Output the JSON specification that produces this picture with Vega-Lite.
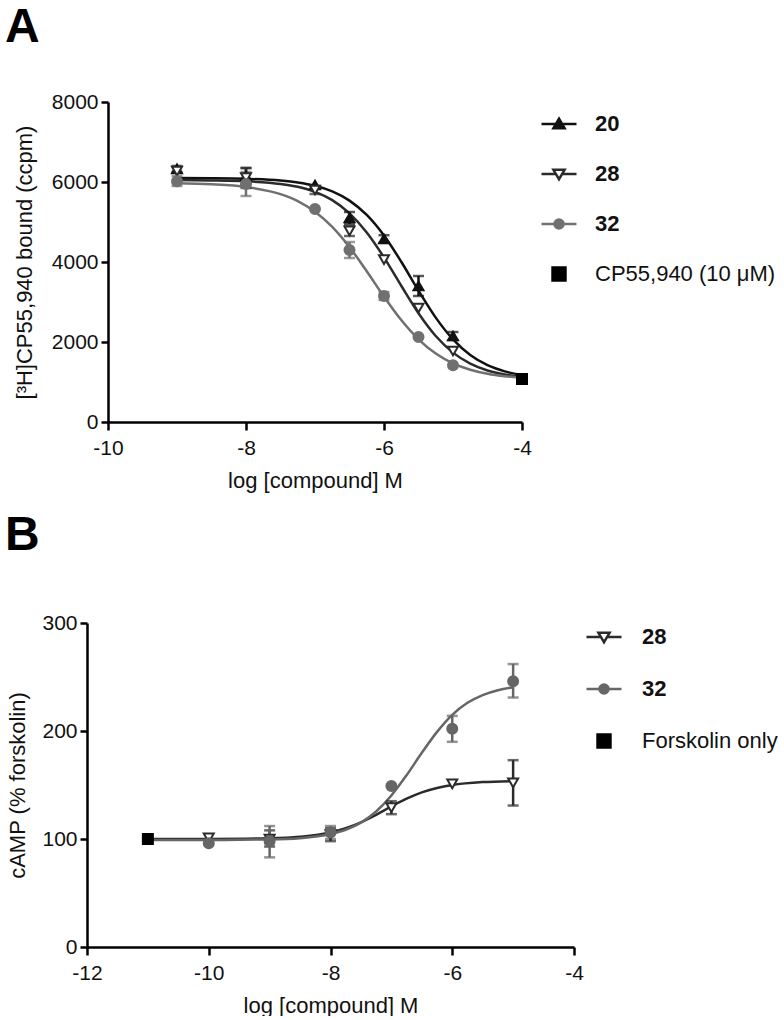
{
  "$schema": "https://vega.github.io/schema/vega-lite/v6.json",
  "background": "white",
  "padding": {"left": 5, "top": 4, "right": 0, "bottom": 0},
  "spacing": 21,
  "config": {
    "font": "Liberation Sans",
    "view": {"stroke": null},
    "axis": {
      "grid": false,
      "labelFlush": false,
      "domainColor": "#000",
      "domainWidth": 2.5,
      "tickColor": "#000",
      "tickWidth": 2.5,
      "labelFont": "Liberation Sans",
      "labelFontSize": 21,
      "labelColor": "#111",
      "titleFont": "Liberation Sans",
      "titleFontSize": 22,
      "titleFontWeight": "normal",
      "titleColor": "#111"
    },
    "axisX": {"tickSize": 8, "labelPadding": 7, "titlePadding": 12},
    "axisY": {"tickSize": 7, "labelPadding": 3},
    "legend": {"labelFont": "Liberation Sans", "labelFontSize": 22, "labelColor": "#111", "labelLimit": 400},
    "title": {"font": "Liberation Sans", "fontSize": 48, "fontWeight": "bold", "color": "#000", "anchor": "start", "frame": "group", "baseline": "alphabetic"}
  },
  "resolve": {"scale": {"stroke": "independent", "fill": "independent", "shape": "independent", "color": "independent", "x": "independent", "y": "independent"}, "legend": {"shape": "independent", "fill": "independent", "stroke": "independent"}},
  "vconcat": [
    {
      "width": 414,
      "height": 320,
      "title": {"text": "A", "dx": -103, "offset": 39},
      "resolve": {"scale": {"shape": "independent", "fill": "independent", "stroke": "independent"}, "legend": {"shape": "independent", "fill": "independent", "stroke": "independent"}},
      "layer": [
        {
          "data": {"name": "A_curve"},
          "mark": {"type": "line", "interpolate": "monotone", "strokeWidth": 2.5},
          "encoding": {
            "x": {"field": "x", "type": "quantitative", "scale": {"domain": [-10, -4], "nice": false, "zero": false},
                  "axis": {"values": [-10, -8, -6, -4], "labelExpr": "'' + datum.value"}, "title": "log [compound] M"},
            "y": {"field": "y", "type": "quantitative", "scale": {"domain": [0, 8000], "nice": false},
                  "axis": {"values": [0, 2000, 4000, 6000, 8000], "titlePadding": 15, "labelExpr": "'' + datum.value"}, "title": "[³H]CP55,940 bound (ccpm)"},
            "color": {"field": "series", "type": "nominal", "scale": {"domain": ["20", "28", "32"], "range": ["#111111", "#2b2b2b", "#707070"]}, "legend": null}
          }
        },
        {
          "data": {"name": "A_err"},
          "mark": {"type": "errorbar", "ticks": true, "size": 11, "thickness": 2.5},
          "encoding": {
            "x": {"field": "x", "type": "quantitative", "title": "log [compound] M"},
            "y": {"field": "lo", "type": "quantitative", "title": "[³H]CP55,940 bound (ccpm)"},
            "y2": {"field": "hi"},
            "color": {"field": "series", "type": "nominal", "legend": null}
          }
        },
        {
          "data": {"name": "A_pts"},
          "mark": {"type": "point", "strokeWidth": 2, "opacity": 1, "size": 100},
          "encoding": {
            "x": {"field": "x", "type": "quantitative", "title": "log [compound] M"},
            "y": {"field": "y", "type": "quantitative", "title": "[³H]CP55,940 bound (ccpm)"},
            "shape": {"field": "series", "type": "nominal", "scale": {"domain": ["20", "28", "32", "CP55,940 (10 μM)"], "range": ["triangle-up", "triangle-down", "circle", "square"]}, "legend": null},
            "fill": {"field": "series", "type": "nominal", "scale": {"domain": ["20", "28", "32", "CP55,940 (10 μM)"], "range": ["#111111", "#ffffff", "#707070", "#000000"]}, "legend": null},
            "stroke": {"field": "series", "type": "nominal", "scale": {"domain": ["20", "28", "32", "CP55,940 (10 μM)"], "range": ["#111111", "#2b2b2b", "#707070", "#000000"]}, "legend": null}
          }
        },
        {
          "data": {"name": "A_pts"},
          "transform": [{"filter": "datum.x > 100"}],
          "mark": {"type": "point", "strokeWidth": 2.5, "opacity": 1},
          "encoding": {
            "x": {"field": "x", "type": "quantitative", "title": "log [compound] M"},
            "y": {"field": "y", "type": "quantitative", "title": "[³H]CP55,940 bound (ccpm)"},
            "shape": {"field": "series", "type": "nominal",
              "scale": {"domain": ["20", "28", "32", "CP55,940 (10 μM)"], "range": ["M-1,0H1M0,-0.3L0.32,0.24H-0.32Z", "M-1,0H-0.18M0.18,0H1M-0.32,-0.24H0.32L0,0.3Z", "M-1,0H1M0.26,0A0.26,0.26,0,1,1,-0.26,0A0.26,0.26,0,1,1,0.26,0Z", "M-0.37,-0.37H0.37V0.37H-0.37Z"]},
              "legend": {
                "title": null, "orient": "none", "legendX": 432, "legendY": 3, "padding": 0,
                "symbolSize": 1225, "symbolStrokeWidth": 2.5, "labelOffset": 17, "rowPadding": 20,
                "labelFontWeight": {"expr": "datum.value === 'CP55,940 (10 μM)' ? 'normal' : 'bold'"}
              }},
            "fill": {"field": "series", "type": "nominal", "scale": {"domain": ["20", "28", "32", "CP55,940 (10 μM)"], "range": ["#111111", "#ffffff", "#707070", "#000000"]}},
            "stroke": {"field": "series", "type": "nominal", "scale": {"domain": ["20", "28", "32", "CP55,940 (10 μM)"], "range": ["#111111", "#2b2b2b", "#707070", "#000000"]}}
          }
        }
      ]
    },
    {
      "width": 466,
      "height": 324,
      "title": {"text": "B", "dx": -103, "offset": 52},
      "resolve": {"scale": {"shape": "independent", "fill": "independent", "stroke": "independent"}, "legend": {"shape": "independent", "fill": "independent", "stroke": "independent"}},
      "layer": [
        {
          "data": {"name": "B_curve"},
          "mark": {"type": "line", "interpolate": "monotone", "strokeWidth": 2.5},
          "encoding": {
            "x": {"field": "x", "type": "quantitative", "scale": {"domain": [-12, -4], "nice": false, "zero": false, "range": [-21, 466]},
                  "axis": {"values": [-12, -10, -8, -6, -4], "labelExpr": "'' + datum.value"}, "title": "log [compound] M"},
            "y": {"field": "y", "type": "quantitative", "scale": {"domain": [0, 300], "nice": false},
                  "axis": {"values": [0, 100, 200, 300], "offset": 21, "titlePadding": 12, "labelExpr": "'' + datum.value"}, "title": "cAMP (% forskolin)"},
            "color": {"field": "series", "type": "nominal", "scale": {"domain": ["28", "32"], "range": ["#2b2b2b", "#666666"]}, "legend": null}
          }
        },
        {
          "data": {"name": "B_err"},
          "mark": {"type": "errorbar", "ticks": true, "size": 11, "thickness": 2.5},
          "encoding": {
            "x": {"field": "x", "type": "quantitative", "title": "log [compound] M"},
            "y": {"field": "lo", "type": "quantitative", "title": "cAMP (% forskolin)"},
            "y2": {"field": "hi"},
            "color": {"field": "series", "type": "nominal", "legend": null}
          }
        },
        {
          "data": {"name": "B_pts"},
          "mark": {"type": "point", "strokeWidth": 2, "opacity": 1, "size": 100},
          "encoding": {
            "x": {"field": "x", "type": "quantitative", "title": "log [compound] M"},
            "y": {"field": "y", "type": "quantitative", "title": "cAMP (% forskolin)"},
            "shape": {"field": "series", "type": "nominal", "scale": {"domain": ["28", "32", "Forskolin only"], "range": ["triangle-down", "circle", "square"]}, "legend": null},
            "fill": {"field": "series", "type": "nominal", "scale": {"domain": ["28", "32", "Forskolin only"], "range": ["#ffffff", "#666666", "#000000"]}, "legend": null},
            "stroke": {"field": "series", "type": "nominal", "scale": {"domain": ["28", "32", "Forskolin only"], "range": ["#2b2b2b", "#666666", "#000000"]}, "legend": null}
          }
        },
        {
          "data": {"name": "B_pts"},
          "transform": [{"filter": "datum.x > 100"}],
          "mark": {"type": "point", "strokeWidth": 2.5, "opacity": 1},
          "encoding": {
            "x": {"field": "x", "type": "quantitative", "title": "log [compound] M"},
            "y": {"field": "y", "type": "quantitative", "title": "cAMP (% forskolin)"},
            "shape": {"field": "series", "type": "nominal",
              "scale": {"domain": ["28", "32", "Forskolin only"], "range": ["M-1,0H-0.18M0.18,0H1M-0.32,-0.24H0.32L0,0.3Z", "M-1,0H1M0.26,0A0.26,0.26,0,1,1,-0.26,0A0.26,0.26,0,1,1,0.26,0Z", "M-0.37,-0.37H0.37V0.37H-0.37Z"]},
              "legend": {
                "title": null, "orient": "none", "legendX": 477, "legendY": -5, "padding": 0,
                "symbolSize": 1225, "symbolStrokeWidth": 2.5, "labelOffset": 19, "rowPadding": 22,
                "labelFontWeight": {"expr": "datum.value === 'Forskolin only' ? 'normal' : 'bold'"}
              }},
            "fill": {"field": "series", "type": "nominal", "scale": {"domain": ["28", "32", "Forskolin only"], "range": ["#ffffff", "#666666", "#000000"]}},
            "stroke": {"field": "series", "type": "nominal", "scale": {"domain": ["28", "32", "Forskolin only"], "range": ["#2b2b2b", "#666666", "#000000"]}}
          }
        }
      ]
    }
  ],
  "datasets": {
    "A_pts": [
      {"series": "20", "x": -9, "y": 6330}, {"series": "20", "x": -8, "y": 6150}, {"series": "20", "x": -7, "y": 5925}, {"series": "20", "x": -6.5, "y": 5100}, {"series": "20", "x": -6, "y": 4575}, {"series": "20", "x": -5.5, "y": 3400}, {"series": "20", "x": -5, "y": 2150},
      {"series": "28", "x": -9, "y": 6270}, {"series": "28", "x": -8, "y": 6110}, {"series": "28", "x": -7, "y": 5800}, {"series": "28", "x": -6.5, "y": 4780}, {"series": "28", "x": -6, "y": 4060}, {"series": "28", "x": -5.5, "y": 2850}, {"series": "28", "x": -5, "y": 1775},
      {"series": "32", "x": -9, "y": 6020}, {"series": "32", "x": -8, "y": 5950}, {"series": "32", "x": -7, "y": 5325}, {"series": "32", "x": -6.5, "y": 4300}, {"series": "32", "x": -6, "y": 3150}, {"series": "32", "x": -5.5, "y": 2125}, {"series": "32", "x": -5, "y": 1420},
      {"series": "CP55,940 (10 μM)", "x": -4, "y": 1075}
    ],
    "A_err": [
      {"series": "20", "x": -9, "lo": 6250, "hi": 6400}, {"series": "20", "x": -8, "lo": 5950, "hi": 6350}, {"series": "20", "x": -6.5, "lo": 4950, "hi": 5250}, {"series": "20", "x": -6, "lo": 4480, "hi": 4670}, {"series": "20", "x": -5.5, "lo": 3150, "hi": 3650}, {"series": "20", "x": -5, "lo": 2050, "hi": 2250},
      {"series": "28", "x": -8, "lo": 5850, "hi": 6350}, {"series": "28", "x": -7, "lo": 5700, "hi": 5900}, {"series": "28", "x": -6.5, "lo": 4650, "hi": 4900},
      {"series": "32", "x": -9, "lo": 5900, "hi": 6150}, {"series": "32", "x": -8, "lo": 5650, "hi": 6250}, {"series": "32", "x": -6.5, "lo": 4100, "hi": 4500}, {"series": "32", "x": -6, "lo": 3050, "hi": 3250}
    ],
    "A_curve": [
      {"series": "20", "x": -9, "y": 6098}, {"series": "20", "x": -8.5, "y": 6094}, {"series": "20", "x": -8, "y": 6080}, {"series": "20", "x": -7.5, "y": 6037}, {"series": "20", "x": -7.25, "y": 5989}, {"series": "20", "x": -7, "y": 5907}, {"series": "20", "x": -6.75, "y": 5766}, {"series": "20", "x": -6.5, "y": 5535}, {"series": "20", "x": -6.25, "y": 5176}, {"series": "20", "x": -6, "y": 4662}, {"series": "20", "x": -5.75, "y": 4007}, {"series": "20", "x": -5.5, "y": 3285}, {"series": "20", "x": -5.25, "y": 2609}, {"series": "20", "x": -5, "y": 2064}, {"series": "20", "x": -4.75, "y": 1675}, {"series": "20", "x": -4.5, "y": 1421}, {"series": "20", "x": -4.25, "y": 1266}, {"series": "20", "x": -4, "y": 1174},
      {"series": "28", "x": -9, "y": 6047}, {"series": "28", "x": -8.5, "y": 6040}, {"series": "28", "x": -8, "y": 6019}, {"series": "28", "x": -7.5, "y": 5952}, {"series": "28", "x": -7.25, "y": 5879}, {"series": "28", "x": -7, "y": 5754}, {"series": "28", "x": -6.75, "y": 5547}, {"series": "28", "x": -6.5, "y": 5217}, {"series": "28", "x": -6.25, "y": 4740}, {"series": "28", "x": -6, "y": 4116}, {"series": "28", "x": -5.75, "y": 3406}, {"series": "28", "x": -5.5, "y": 2719}, {"series": "28", "x": -5.25, "y": 2149}, {"series": "28", "x": -5, "y": 1734}, {"series": "28", "x": -4.75, "y": 1460}, {"series": "28", "x": -4.5, "y": 1289}, {"series": "28", "x": -4.25, "y": 1187}, {"series": "28", "x": -4, "y": 1128},
      {"series": "32", "x": -9, "y": 5967}, {"series": "32", "x": -8.5, "y": 5942}, {"series": "32", "x": -8, "y": 5876}, {"series": "32", "x": -7.5, "y": 5697}, {"series": "32", "x": -7.25, "y": 5524}, {"series": "32", "x": -7, "y": 5257}, {"series": "32", "x": -6.75, "y": 4878}, {"series": "32", "x": -6.5, "y": 4372}, {"series": "32", "x": -6.25, "y": 3769}, {"series": "32", "x": -6, "y": 3133}, {"series": "32", "x": -5.75, "y": 2548}, {"series": "32", "x": -5.5, "y": 2067}, {"series": "32", "x": -5.25, "y": 1711}, {"series": "32", "x": -5, "y": 1466}, {"series": "32", "x": -4.75, "y": 1307}, {"series": "32", "x": -4.5, "y": 1206}, {"series": "32", "x": -4.25, "y": 1144}, {"series": "32", "x": -4, "y": 1107}
    ],
    "B_pts": [
      {"series": "28", "x": -10, "y": 101}, {"series": "28", "x": -9, "y": 100}, {"series": "28", "x": -8, "y": 104}, {"series": "28", "x": -7, "y": 129}, {"series": "28", "x": -6, "y": 151}, {"series": "28", "x": -5, "y": 152},
      {"series": "32", "x": -10, "y": 96}, {"series": "32", "x": -9, "y": 98}, {"series": "32", "x": -8, "y": 106}, {"series": "32", "x": -7, "y": 149}, {"series": "32", "x": -6, "y": 202}, {"series": "32", "x": -5, "y": 246},
      {"series": "Forskolin only", "x": -11, "y": 100}
    ],
    "B_err": [
      {"series": "28", "x": -9, "lo": 93, "hi": 108}, {"series": "28", "x": -8, "lo": 98, "hi": 110}, {"series": "28", "x": -7, "lo": 123, "hi": 135}, {"series": "28", "x": -5, "lo": 131, "hi": 173},
      {"series": "32", "x": -9, "lo": 83, "hi": 112}, {"series": "32", "x": -8, "lo": 100, "hi": 112}, {"series": "32", "x": -6, "lo": 190, "hi": 214}, {"series": "32", "x": -5, "lo": 231, "hi": 262}
    ],
    "B_curve": [
      {"series": "28", "x": -11, "y": 100}, {"series": "28", "x": -10, "y": 100.1}, {"series": "28", "x": -9, "y": 100.7}, {"series": "28", "x": -8.5, "y": 102.1}, {"series": "28", "x": -8, "y": 106}, {"series": "28", "x": -7.75, "y": 109.9}, {"series": "28", "x": -7.5, "y": 115.4}, {"series": "28", "x": -7.25, "y": 122.4}, {"series": "28", "x": -7, "y": 130.1}, {"series": "28", "x": -6.75, "y": 137.3}, {"series": "28", "x": -6.5, "y": 143.2}, {"series": "28", "x": -6.25, "y": 147.3}, {"series": "28", "x": -6, "y": 150}, {"series": "28", "x": -5.5, "y": 152.7}, {"series": "28", "x": -5, "y": 153.6},
      {"series": "32", "x": -11, "y": 99}, {"series": "32", "x": -10, "y": 99.1}, {"series": "32", "x": -9, "y": 99.6}, {"series": "32", "x": -8.5, "y": 100.8}, {"series": "32", "x": -8, "y": 104.6}, {"series": "32", "x": -7.75, "y": 108.6}, {"series": "32", "x": -7.5, "y": 115.2}, {"series": "32", "x": -7.25, "y": 125.5}, {"series": "32", "x": -7, "y": 140.3}, {"series": "32", "x": -6.75, "y": 159.1}, {"series": "32", "x": -6.5, "y": 179.8}, {"series": "32", "x": -6.25, "y": 199.2}, {"series": "32", "x": -6, "y": 215}, {"series": "32", "x": -5.75, "y": 226.1}, {"series": "32", "x": -5.5, "y": 233.3}, {"series": "32", "x": -5.25, "y": 237.8}, {"series": "32", "x": -5, "y": 240.5}
    ]
  }
}
